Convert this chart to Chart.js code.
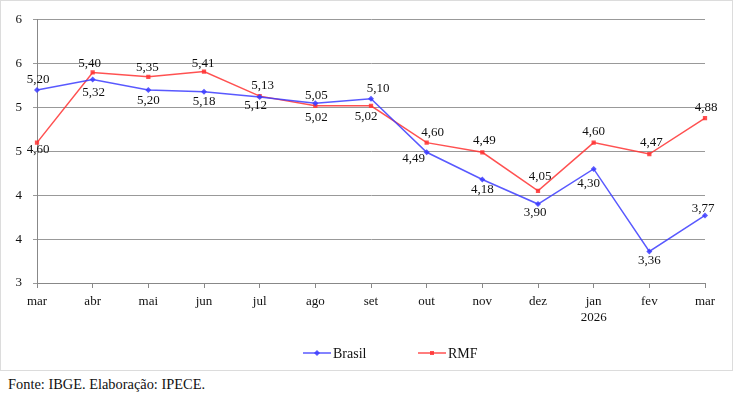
<!DOCTYPE html>
<html>
<head>
<meta charset="utf-8">
<script src="https://cdn.jsdelivr.net/npm/chart.js@4"></script>
<style>
  html, body { margin: 0; padding: 0; background: #fff; }
  #frame { position: absolute; left: 0; top: 0; width: 731px; height: 369px; border: 1px solid #dcdcdc; }
  #note { position: absolute; left: 8px; top: 376px; font: 14.4px "Liberation Serif", serif; color: #111; }
</style>
</head>
<body>
<div id="frame"><canvas id="chart" width="731" height="369"></canvas></div>
<div id="note">Fonte: IBGE. Elaboração: IPECE.</div>
<script>
// Categories (months, mar/2025 to mar/2026)
const months = ['mar', 'abr', 'mai', 'jun', 'jul', 'ago', 'set', 'out', 'nov', 'dez', ['jan', '2026'], 'fev', 'mar'];

// Series values
const brasil = [5.20, 5.32, 5.20, 5.18, 5.12, 5.05, 5.10, 4.49, 4.18, 3.90, 4.30, 3.36, 3.77];
const rmf = [4.60, 5.40, 5.35, 5.41, 5.13, 5.02, 5.02, 4.60, 4.49, 4.05, 4.60, 4.47, 4.88];

// Y tick labels (as shown, 0 decimals)
const yTickLabels = ['3', '4', '4', '5', '5', '6', '6'];

// Value label offsets from each point [dx, dy]
const brasilLabelOffset = [[1, -10], [1, 13], [0, 11], [0, 10], [-4, 9], [1, -8], [7, -10], [-13, 6], [0, 10], [-3, 9], [-5, 15], [0, 9], [-2, -7]];
const rmfLabelOffset = [[1, 7], [-3, -9], [-1, -9], [-1, -8], [3, -11], [1, 12], [-5, 11], [6, -10], [2, -12], [2, -14], [0, -11], [2, -11], [1, -10]];

const FONT = '"Liberation Serif", "Times New Roman", serif';
const BLUE = 'rgba(60, 60, 255, 0.85)';
const RED = 'rgba(255, 50, 50, 0.85)';

// Draws the value labels next to each point
const valueLabels = {
  id: 'valueLabels',
  afterDatasetsDraw(chart) {
    const ctx = chart.ctx;
    const offsets = [brasilLabelOffset, rmfLabelOffset];
    ctx.save();
    ctx.font = '13px ' + FONT;
    ctx.fillStyle = '#111';
    ctx.textAlign = 'center';
    ctx.textBaseline = 'middle';
    chart.data.datasets.forEach((ds, di) => {
      const meta = chart.getDatasetMeta(di);
      meta.data.forEach((pt, i) => {
        const [dx, dy] = offsets[di][i];
        const txt = ds.data[i].toFixed(2).replace('.', ',');
        ctx.fillText(txt, pt.x + dx, pt.y + dy);
      });
    });
    ctx.restore();
  }
};

// Legend at the bottom: line with marker, then name
const bottomLegend = {
  id: 'bottomLegend',
  afterDraw(chart) {
    const ctx = chart.ctx;
    const items = [
      { x: 302, label: 'Brasil', color: BLUE, style: 'diamond' },
      { x: 417, label: 'RMF', color: RED, style: 'square' }
    ];
    const y = 352;
    ctx.save();
    items.forEach(it => {
      ctx.strokeStyle = it.color;
      ctx.lineWidth = 1.5;
      ctx.beginPath();
      ctx.moveTo(it.x, y);
      ctx.lineTo(it.x + 28, y);
      ctx.stroke();
      ctx.fillStyle = it.color;
      const cx = it.x + 14;
      if (it.style === 'square') {
        ctx.fillRect(cx - 2, y - 2, 4, 4);
      } else {
        ctx.beginPath();
        ctx.moveTo(cx, y - 3);
        ctx.lineTo(cx + 3, y);
        ctx.lineTo(cx, y + 3);
        ctx.lineTo(cx - 3, y);
        ctx.closePath();
        ctx.fill();
      }
      ctx.fillStyle = '#111';
      ctx.font = '14px ' + FONT;
      ctx.textAlign = 'left';
      ctx.textBaseline = 'middle';
      ctx.fillText(it.label, it.x + 30, y + 1);
    });
    ctx.restore();
  }
};

new Chart(document.getElementById('chart'), {
  type: 'line',
  data: {
    labels: months,
    datasets: [
      {
        label: 'Brasil',
        data: brasil,
        borderColor: BLUE,
        backgroundColor: BLUE,
        borderWidth: 1.5,
        pointStyle: 'rectRot',
        pointRadius: 3,
        pointBorderWidth: 0,
        tension: 0
      },
      {
        label: 'RMF',
        data: rmf,
        borderColor: RED,
        backgroundColor: RED,
        borderWidth: 1.5,
        pointStyle: 'rect',
        pointRadius: 3,
        pointBorderWidth: 0,
        tension: 0
      }
    ]
  },
  options: {
    responsive: false,
    animation: false,
    layout: { padding: { left: 0, right: 27, top: 9, bottom: 0 } },
    plugins: {
      legend: { display: false },
      tooltip: { enabled: false }
    },
    scales: {
      x: {
        offset: false,
        grid: {
          display: true,
          drawOnChartArea: false,
          drawTicks: true,
          tickLength: 5,
          color: '#888'
        },
        border: { color: '#888' },
        ticks: {
          color: '#111',
          font: { family: FONT, size: 13 },
          padding: 6,
          maxRotation: 0,
          autoSkip: false
        },
        afterFit(scale) { scale.height = 87; }
      },
      y: {
        min: 3,
        max: 6,
        grid: { color: '#999', drawTicks: true, tickLength: 4 },
        border: { color: '#888' },
        ticks: {
          stepSize: 0.5,
          color: '#111',
          font: { family: FONT, size: 13 },
          padding: 11,
          callback: (v, i) => yTickLabels[i]
        },
        afterFit(scale) { scale.width = 36; }
      }
    }
  },
  plugins: [valueLabels, bottomLegend]
});
</script>
</body>
</html>
